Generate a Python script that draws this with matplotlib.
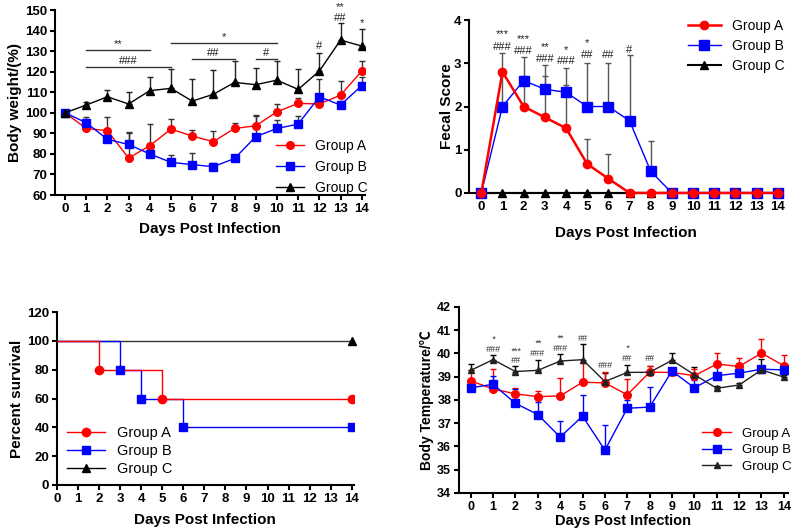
import matplotlib
matplotlib.use('Agg')
import matplotlib.pyplot as plt
import numpy as np

plt.rcParams['font.family'] = ['Liberation Sans', 'DejaVu Sans']

days = np.arange(15)

# body weight (%)
bw_a = [100, 92.4, 91.3, 78.0, 84.0, 92.1, 88.7, 86.0, 92.4, 93.7, 100.5, 104.6, 104.3, 108.6, 120.3]
bw_a_err = [0, 1.5, 6.5, 12.5, 10.5, 5.0, 3.0, 5.0, 2.5, 5.0, 4.0, 2.7, 5.0, 7.0, 5.0]
bw_b = [100, 95.2, 87.1, 84.6, 80.0, 75.9, 74.8, 73.8, 77.8, 88.4, 92.4, 94.5, 107.8, 103.8, 113.2]
bw_b_err = [0, 3.0, 0.5, 5.4, 0.5, 3.6, 5.5, 2.0, 1.0, 10.5, 4.0, 4.0, 8.6, 2.0, 4.0]
bw_c = [100, 103.8, 107.8, 104.3, 110.8, 111.9, 105.7, 109.0, 114.8, 113.7, 115.9, 111.4, 120.3, 135.4, 132.5]
bw_c_err = [0, 1.6, 3.1, 6.0, 6.8, 9.2, 10.6, 11.8, 10.2, 8.3, 9.3, 9.7, 8.9, 8.1, 8.1]

# fecal score
fs_a = [0, 2.8, 2.0, 1.75, 1.5, 0.67, 0.33, 0, 0, 0, 0, 0, 0, 0, 0]
fs_a_err = [0, 0.45, 0.7, 0.95, 1.0, 0.57, 0.57, 0, 0, 0, 0, 0, 0, 0, 0]
fs_b = [0, 2.0, 2.6, 2.4, 2.33, 2.0, 2.0, 1.67, 0.5, 0, 0, 0, 0, 0, 0]
fs_b_err = [0, 0.7, 0.55, 0.55, 0.57, 1.0, 1.0, 1.53, 0.7, 0, 0, 0, 0, 0, 0]
fs_c = [0] * 15

# survival
surv_a_days = [0, 2, 5, 14]
surv_a = [100, 80, 60, 60]
surv_b_days = [0, 3, 4, 6, 14]
surv_b = [100, 80, 60, 40, 40]
surv_c_days = [0, 14]
surv_c = [100, 100]

# body temperature
bt_a = [38.82, 38.47, 38.26, 38.14, 38.17, 38.76, 38.73, 38.22, 39.19, 39.18, 39.04, 39.54, 39.44, 40.01, 39.47]
bt_a_err = [0.45, 0.86, 0.24, 0.25, 0.79, 0.82, 0.45, 0.68, 0.28, 0.1, 0.3, 0.47, 0.36, 0.61, 0.47]
bt_b = [38.52, 38.67, 37.85, 37.37, 36.40, 37.30, 35.84, 37.64, 37.69, 39.24, 38.52, 39.04, 39.15, 39.32, 39.29]
bt_b_err = [0.3, 0.36, 0.6, 0.55, 0.7, 0.9, 1.08, 0.36, 0.85, 0.1, 0.34, 0.4, 0.1, 0.1, 0.1]
bt_c = [39.27, 39.73, 39.22, 39.27, 39.67, 39.73, 38.79, 39.18, 39.19, 39.70, 39.08, 38.50, 38.64, 39.29, 38.98]
bt_c_err = [0.27, 0.18, 0.22, 0.43, 0.3, 0.69, 0.35, 0.33, 0.25, 0.31, 0.32, 0.1, 0.1, 0.46, 0.1]

# significance marks
bw_marks = [(12, 132.6, '#'), (13, 146.0, '##'), (13, 151.6, '**'), (14, 143.8, '*')]
bw_brackets = [(1, 4, 130.5, '**'), (1, 5, 122.4, '###'), (5, 10, 133.8, '*'),
               (6, 8, 126.2, '##'), (9, 10, 126.2, '#')]
fs_marks = [(1, 3.67, '***'), (1, 3.38, '###'), (2, 3.55, '***'), (2, 3.28, '###'),
            (3, 3.38, '**'), (3, 3.09, '###'), (4, 3.31, '*'), (4, 3.05, '###'),
            (5, 3.48, '*'), (5, 3.19, '##'), (6, 3.19, '##'), (7, 3.32, '#')]
bt_marks = [(1, 40.62, '*'), (1, 40.16, '###'), (2, 40.10, '***'), (2, 39.70, '##'),
            (3, 40.42, '**'), (3, 40.01, '###'), (4, 40.64, '**'), (4, 40.23, '###'),
            (5, 40.62, '##'), (6, 39.47, '###'), (7, 40.22, '*'), (7, 39.80, '##'),
            (8, 39.80, '##')]

RED = '#ff0000'
BLUE = '#0000ff'
BLACK = '#000000'


def style_axes(ax):
    for s in ['top', 'right']:
        ax.spines[s].set_visible(False)
    for s in ['left', 'bottom']:
        ax.spines[s].set_linewidth(1.5)
    ax.tick_params(width=1.5, length=3.5, labelsize=9.5, pad=2)
    for lab in ax.get_xticklabels() + ax.get_yticklabels():
        lab.set_fontweight('bold')
    ax.set_xlabel('Days Post Infection', fontsize=11, fontweight='bold', labelpad=1)


def up_err(ax, x, y, err, color, lw=1.0):
    ax.errorbar(x, y, yerr=[np.zeros(len(err)), err], fmt='none', ecolor=color,
                elinewidth=lw, capsize=2.5, capthick=lw, zorder=1)


fig = plt.figure(figsize=(7.98, 5.30), dpi=100)

# ---- panel 1: body weight
ax1 = fig.add_axes([0.069, 0.632, 0.388, 0.349])
up_err(ax1, days, bw_c, bw_c_err, '#222222')
up_err(ax1, days, bw_a, bw_a_err, '#333333')
up_err(ax1, days, bw_b, bw_b_err, '#333333')
ax1.plot(days, bw_a, color=RED, marker='o', ms=5.5, lw=1.0, label='Group A', zorder=3)
ax1.plot(days, bw_b, color=BLUE, marker='s', ms=5.5, lw=1.0, label='Group B', zorder=3)
ax1.plot(days, bw_c, color=BLACK, marker='^', ms=5.5, lw=1.0, label='Group C', zorder=4)
ax1.set_xlim(-0.47, 14.14)
ax1.set_ylim(60, 150)
ax1.set_xticks(days)
ax1.set_yticks(np.arange(60, 151, 10))
ax1.set_ylabel('Body weight/(%)', fontsize=11, fontweight='bold', labelpad=2)
for x0, x1, y, t in bw_brackets:
    ax1.plot([x0, x1], [y, y], color='#333333', lw=1.0, clip_on=False)
    ax1.text((x0 + x1) / 2, y + 0.6, t, ha='center', va='bottom', fontsize=8, color='#222222')
for x, y, t in bw_marks:
    ax1.text(x, y, t, ha='center', va='center', fontsize=8, color='#222222', clip_on=False)
ax1.legend(loc='lower right', bbox_to_anchor=(1.04, -0.05), frameon=False, fontsize=10,
           handlelength=2.0, labelspacing=0.5, borderpad=0.2)
style_axes(ax1)
ax1.xaxis.labelpad = 5

# ---- panel 2: fecal score
ax2 = fig.add_axes([0.588, 0.636, 0.392, 0.326])
up_err(ax2, days, fs_a, fs_a_err, '#555555')
up_err(ax2, days, fs_b, fs_b_err, '#555555')
ax2.plot(days, fs_c, color=BLACK, marker='^', ms=5.5, lw=1.5, label='Group C', zorder=2,
         clip_on=False)
ax2.plot(days, fs_b, color=BLUE, marker='s', ms=6.5, lw=1.0, label='Group B', zorder=3,
         clip_on=False)
ax2.plot(days, fs_a, color=RED, marker='o', ms=6, lw=1.8, label='Group A', zorder=4,
         clip_on=False)
ax2.set_xlim(-0.57, 14.2)
ax2.set_ylim(0, 4)
ax2.set_xticks(days)
ax2.set_yticks(np.arange(0, 5, 1))
ax2.set_ylabel('Fecal Score', fontsize=11, fontweight='bold', labelpad=0)
for x, y, t in fs_marks:
    ax2.text(x, y, t, ha='center', va='center', fontsize=8, color='#222222')
h, l = ax2.get_legend_handles_labels()
ax2.legend(h[::-1], l[::-1], loc='upper right', bbox_to_anchor=(1.04, 1.065), frameon=False,
           fontsize=10, handlelength=2.4, labelspacing=0.45, borderpad=0.2)
style_axes(ax2)
ax2.xaxis.labelpad = 10

# ---- panel 3: survival
ax3 = fig.add_axes([0.0714, 0.085, 0.372, 0.326])
ax3.step(surv_c_days, surv_c, where='post', color='#333333', lw=1.0, zorder=2)
ax3.step(surv_b_days, surv_b, where='post', color=BLUE, lw=1.0, zorder=3)
ax3.step(surv_a_days, surv_a, where='post', color=RED, lw=1.0, zorder=3)
ax3.plot(surv_a_days[1:], surv_a[1:], ls='none', color=RED, marker='o', ms=6, zorder=4)
ax3.plot(surv_b_days[1:], surv_b[1:], ls='none', color=BLUE, marker='s', ms=6, zorder=4)
ax3.plot(surv_c_days[1:], surv_c[1:], ls='none', color=BLACK, marker='^', ms=6, zorder=4,
         clip_on=False)
ax3.plot([], [], color=RED, marker='o', ms=6, lw=1.0, label='Group A')
ax3.plot([], [], color=BLUE, marker='s', ms=6, lw=1.0, label='Group B')
ax3.plot([], [], color=BLACK, marker='^', ms=6, lw=1.0, label='Group C')
ax3.set_xlim(0, 14.1)
ax3.set_ylim(0, 120)
ax3.set_xticks(days)
ax3.set_yticks(np.arange(0, 121, 20))
ax3.set_ylabel('Percent survival', fontsize=11, fontweight='bold', labelpad=2)
ax3.legend(loc='lower left', bbox_to_anchor=(0.0, -0.01), frameon=False, fontsize=10.5,
           handlelength=2.6, labelspacing=0.3, borderpad=0.2)
style_axes(ax3)
ax3.xaxis.labelpad = 6

# ---- panel 4: body temperature
ax4 = fig.add_axes([0.575, 0.070, 0.412, 0.351])
up_err(ax4, days, bt_c, bt_c_err, BLACK)
up_err(ax4, days, bt_a, bt_a_err, RED)
up_err(ax4, days, bt_b, bt_b_err, BLUE)
ax4.plot(days, bt_a, color=RED, marker='o', ms=5.5, lw=1.0, label='Group A', zorder=3)
ax4.plot(days, bt_b, color=BLUE, marker='s', ms=5.5, lw=1.0, label='Group B', zorder=3)
ax4.plot(days, bt_c, color='#222222', marker='^', ms=5, lw=1.0, label='Group C', zorder=4)
ax4.set_xlim(-0.53, 14.17)
ax4.set_ylim(34, 42)
ax4.set_xticks(days)
ax4.set_yticks(np.arange(34, 43, 1))
ax4.set_ylabel('Body Temperature/℃', fontsize=10, fontweight='bold', labelpad=2,
               family=['Liberation Sans', 'Noto Sans CJK SC', 'DejaVu Sans'])
for x, y, t in bt_marks:
    ax4.text(x, y, t, ha='center', va='center', fontsize=6.5, color='#333333', style='italic')
ax4.legend(loc='lower right', bbox_to_anchor=(1.04, 0.06), frameon=False, fontsize=9.5,
           handlelength=2.2, labelspacing=0.3, borderpad=0.2)
style_axes(ax4)
ax4.tick_params(labelsize=9)
ax4.xaxis.label.set_fontsize(10.5)

fig.savefig('out.png', dpi=100)
